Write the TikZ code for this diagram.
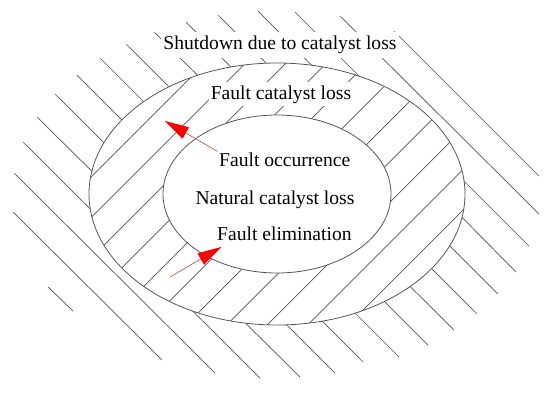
\documentclass[tikz,border=0pt]{standalone}
\usepackage{fontspec}
\setmainfont{Liberation Serif}
\usetikzlibrary{arrows.meta}

\definecolor{hatchgray}{RGB}{85,85,85}
\definecolor{shaftred}{RGB}{190,70,70}

\begin{document}
\begin{tikzpicture}[
  x=1pt, y=-1pt,
  font=\fontsize{19.6}{23}\selectfont,
  hatch/.style ={draw=hatchgray, line width=0.7pt},
  rim/.style   ={draw=hatchgray, line width=0.8pt},
  lbl/.style   ={inner sep=1.5pt, anchor=base},
  mask/.style  ={lbl, fill=white, inner xsep=2pt, inner ysep=4pt},
  arr/.style   ={-{Triangle[length=24pt, width=13pt, color=red]},
                 draw=shaftred, line width=0.6pt},
]

\def\cx{277}
\def\cy{194}

\useasboundingbox (0,0) rectangle (550,392);

% hatching outside the outer ellipse
\foreach \xa/\ya/\xb/\yb in {48/287/73/311, 13/212/162/360, 14/173/215/373,
    23/142/260/378, 37/117/300/377, 55/94/335/373, 77/75/363/362,
    100/58/399/357, 126/44/428/345, 154/32/454/330, 186/22/477/314,
    218/15/498/294, 258/11/516/272, 295/12/529/246, 340/16/539/214,
    394/31/539/176}
  \draw[hatch] (\xa,\ya) -- (\xb,\yb);

\fill[white] (\cx,\cy) ellipse [x radius=188pt, y radius=131pt];

% hatching of the ring
\begin{scope}
  \clip (\cx,\cy) ellipse [x radius=188pt, y radius=131pt];
  \foreach \s in {268,308.5,...,673}
    \draw[hatch] (0,\s) -- (550,\s-550);
\end{scope}

\filldraw[rim, fill=white] (\cx,\cy) ellipse [x radius=114pt, y radius=79pt];
\draw[rim] (\cx,\cy) ellipse [x radius=188pt, y radius=131pt];

\node[mask]                  (shut) at (280,49.5)   {Shutdown due to catalyst loss};
\node[mask, inner ysep=3pt]  (fcl)  at (281,99)     {Fault catalyst loss};
\node[lbl, anchor=base west] (occ)  at (217.5,166.7) {Fault occurrence};
\node[lbl]                   (nat)  at (275,204)    {Natural catalyst loss};
\node[lbl, anchor=base west] (elim) at (215.5,240)  {Fault elimination};

\coordinate (occtip)   at (165,121);
\coordinate (elimtail) at (170,277);

\draw[arr] (occ.north west) -- (occtip);
\draw[arr] (elimtail) -- ([shift={(6,5)}]elim.south west);

\end{tikzpicture}
\end{document}
